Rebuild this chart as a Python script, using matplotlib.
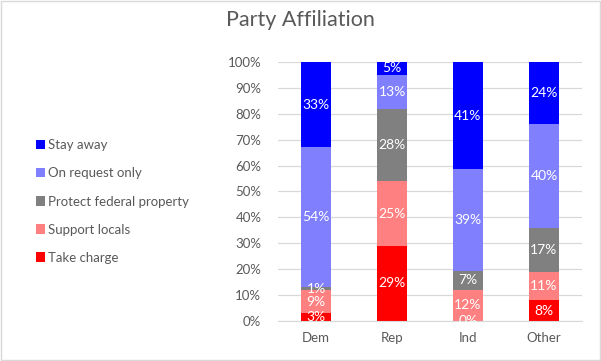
import matplotlib
matplotlib.use("Agg")
import matplotlib.pyplot as plt
from matplotlib.patches import Rectangle
import numpy as np

categories = ["Dem", "Rep", "Ind", "Other"]
series_names = ["Take charge", "Support locals", "Protect federal property", "On request only", "Stay away"]
take_charge = [3, 29, 0, 8]
support_locals = [9, 25, 12, 11]
protect_federal = [1, 28, 7, 17]
on_request = [54, 13, 39, 40]
stay_away = [33, 5, 41, 24]
colors = ["#FF0000", "#FF8080", "#808080", "#8080FF", "#0000FF"]

plt.rcParams['font.family'] = ['Lato', 'DejaVu Sans']

fig = plt.figure(figsize=(6.01, 3.61), dpi=100)
ax = fig.add_axes([0.4626, 0.1108, 0.5057, 0.7175])

data = [take_charge, support_locals, protect_federal, on_request, stay_away]
x = np.arange(len(categories))
bottom = np.zeros(len(categories))
handles = []
tot = np.array([sum(d[i] for d in data) for i in range(len(categories))], dtype=float)
for name, vals, c in zip(series_names, data, colors):
    vals = np.array(vals, dtype=float)
    frac = vals / tot
    b = ax.bar(x, frac, 0.4, bottom=bottom, color=c, label=name, zorder=2)
    handles.append(b)
    for xi, f, bt, v in zip(x, frac, bottom, vals):
        ax.text(xi, bt + f / 2, f"{int(v)}%", ha="center", va="center",
                color="white", fontsize=10, zorder=3)
    bottom += frac

ax.set_xlim(-0.5, 3.5)
ax.set_ylim(0, 1)
ax.set_yticks(np.arange(0, 1.01, 0.1))
ax.set_yticklabels([f"{int(round(v*100))}%" for v in np.arange(0, 1.01, 0.1)])
ax.set_xticks(x)
ax.set_xticklabels(categories)
ax.yaxis.grid(True, color="#D9D9D9", linewidth=0.9, zorder=0)
ax.set_axisbelow(True)
for s in ax.spines.values():
    s.set_visible(False)
ax.spines['bottom'].set_visible(True)
ax.spines['bottom'].set_color("#D9D9D9")
ax.tick_params(axis='both', length=0, colors="#595959", labelsize=9.5)
ax.tick_params(axis='y', pad=12)
ax.tick_params(axis='x', pad=8)

fig.text(0.5, 0.945, "Party Affiliation", ha="center", va="center",
         fontsize=15.5, color="#595959")

leg = fig.legend(handles[::-1], series_names[::-1], loc="upper left",
                 bbox_to_anchor=(0.04, 0.647), frameon=False,
                 fontsize=9.5, handlelength=0.7, handleheight=0.7,
                 handletextpad=0.25, labelspacing=1.22, labelcolor="#595959")

fig.patches.append(Rectangle((0.001, 0.002), 0.997, 0.995, transform=fig.transFigure,
                             fill=False, edgecolor="#D9D9D9", linewidth=1))

fig.savefig("out.png", dpi=100)
